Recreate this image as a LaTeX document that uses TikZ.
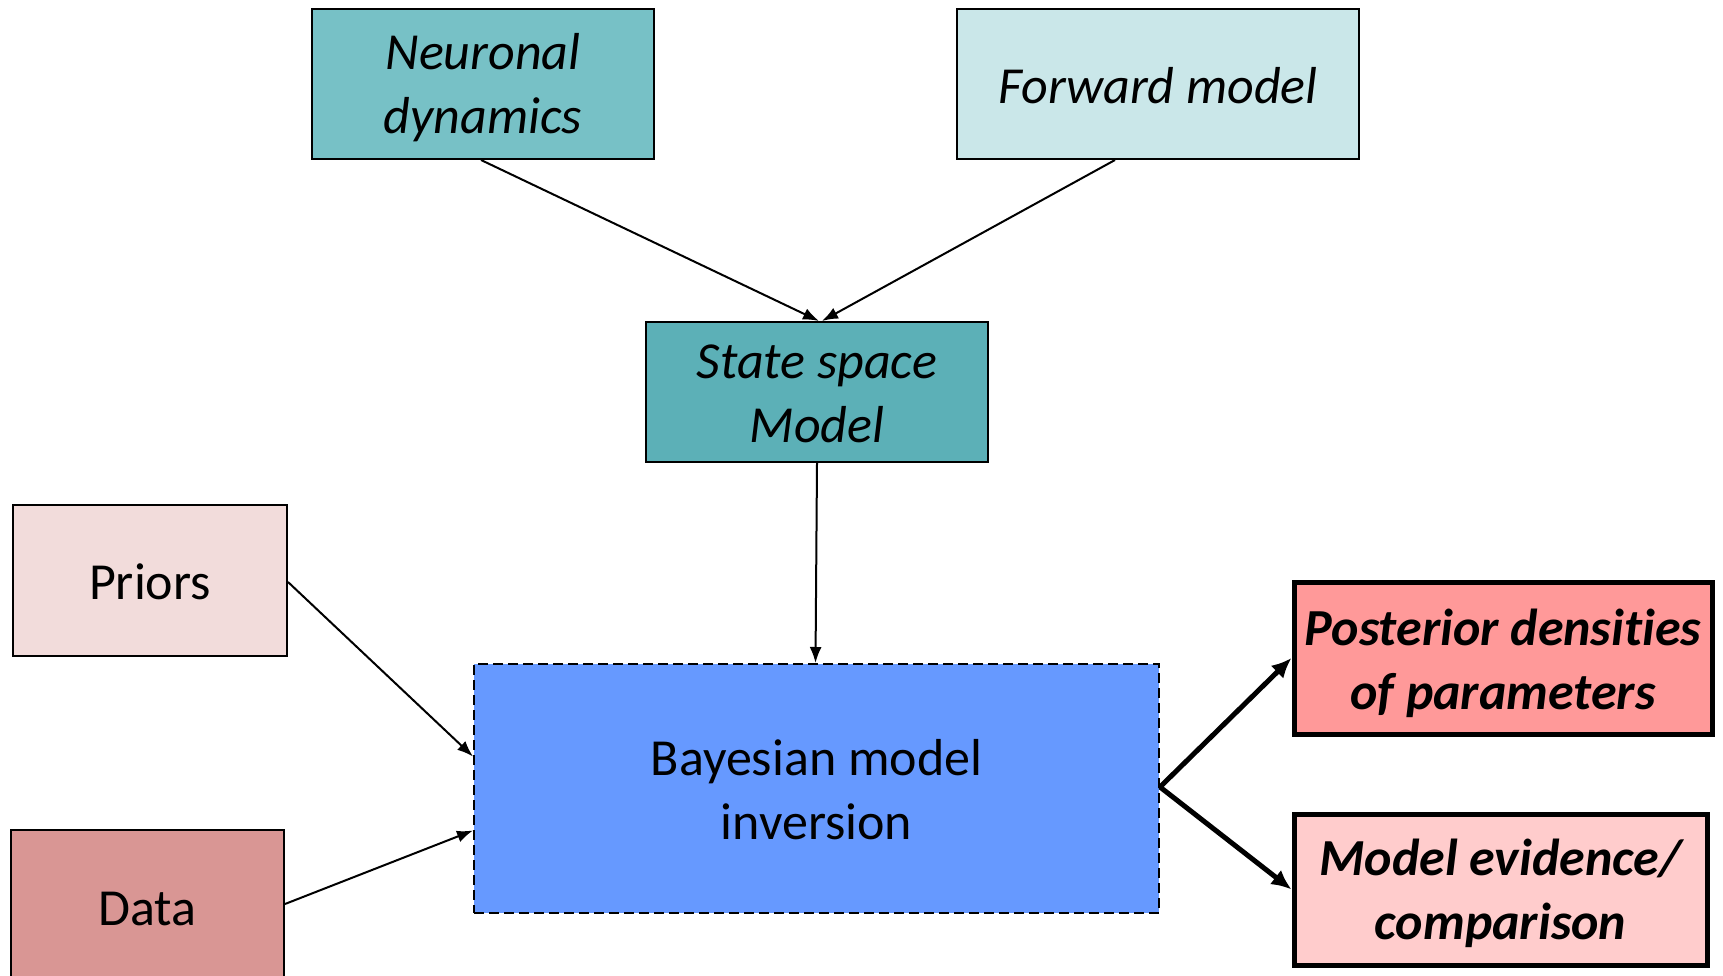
\documentclass[tikz,border=0pt]{standalone}
\usepackage{fontspec}
\setmainfont{Carlito}[RawFeature={-liga;-clig;-calt;-dlig}]
\usetikzlibrary{arrows.meta,calc}
\definecolor{cneur}{HTML}{77C1C6}
\definecolor{cfwd}{HTML}{CAE7E9}
\definecolor{cssm}{HTML}{5CB0B7}
\definecolor{cpri}{HTML}{F2DCDB}
\definecolor{cdat}{HTML}{D99694}
\definecolor{cbay}{HTML}{6699FF}
\definecolor{cpost}{HTML}{FF9999}
\definecolor{cevid}{HTML}{FFCCCC}
\tikzset{
  boxnode/.style={draw=black, line width=2pt, inner sep=0pt},
  thickbox/.style={boxnode, line width=5pt},
  txt/.style={align=center, inner sep=0pt, font=\fontsize{52}{64}\selectfont},
  itxt/.style={txt, font=\fontsize{52}{64}\selectfont\itshape},
  btxt/.style={txt, font=\fontsize{52}{64}\selectfont\bfseries\itshape},
  thinarrow/.style={line width=2pt, -{Latex[length=16pt,width=12pt]}},
  thickarrow/.style={line width=5pt, -{Latex[length=20pt,width=18pt]}},
}
\begin{document}
\begin{tikzpicture}[x=1pt,y=-1pt]
\useasboundingbox (0,0) rectangle (1723,976);
\node[boxnode, fill=cneur, minimum width=342pt, minimum height=150pt] (neur) at (483,84) {};
\node[itxt] (neurt) at ($(neur.center)+(0,4)$) {Neuronal\\dynamics};
\node[boxnode, fill=cfwd, minimum width=402pt, minimum height=150pt] (fwd) at (1158,84) {};
\node[itxt] (fwdt) at ($(fwd.center)+(0,2)$) {Forward model};
\node[boxnode, fill=cssm, minimum width=342pt, minimum height=140pt] (ssm) at (817,392) {};
\node[itxt] (ssmt) at ($(ssm.center)+(0,2)$) {State space\\Model};
\node[boxnode, fill=cpri, minimum width=274pt, minimum height=151pt] (pri) at (150,580.5) {};
\node[txt] (prit) at ($(pri.center)+(0,1)$) {Priors};
\node[boxnode, fill=cdat, minimum width=273pt, minimum height=160pt] (dat) at (147.5,910) {};
\node[txt] (datt) at ($(dat.center)+(0,-1)$) {Data};
\node[boxnode, fill=cbay, dashed, dash pattern=on 10pt off 5pt, minimum width=685pt, minimum height=249pt] (bay) at (816.5,788.5) {};
\node[txt] (bayt) at ($(bay.center)+(0,1)$) {Bayesian model\\inversion};
\node[thickbox, fill=cpost, minimum width=418pt, minimum height=152pt] (post) at (1503,658) {};
\node[btxt] (postt) at ($(post.center)+(0,5)$) {Posterior densi\kern0pt ties\\of parameters};
\node[thickbox, fill=cevid, minimum width=413pt, minimum height=151pt] (evid) at (1500.5,889.5) {};
\node[btxt] (evidt) at ($(evid.center)+(0,4)$) {Model evidence/\\comparison};

\draw[thinarrow] ($(neur.south)+(-2,0)$) -- ($(ssm.north)+(2,0)$);
\draw[thinarrow] ($(fwd.south)+(-43,0)$) -- ($(ssm.north)+(5,0)$);
\draw[thinarrow] (ssm.south) -- ($(bay.north)+(-1,0)$);
\draw[thinarrow] ($(pri.east)+(0,1.5)$) -- ($(bay.west)+(0,-32)$);
\draw[thinarrow] ($(dat.east)+(0,-6)$) -- ($(bay.west)+(0,42)$);
\coordinate (split) at ($(bay.east)+(0,-1.5)$);
\draw[thickarrow] (split) -- (post.west);
\draw[thickarrow] (split) -- (evid.west);
\end{tikzpicture}
\end{document}
